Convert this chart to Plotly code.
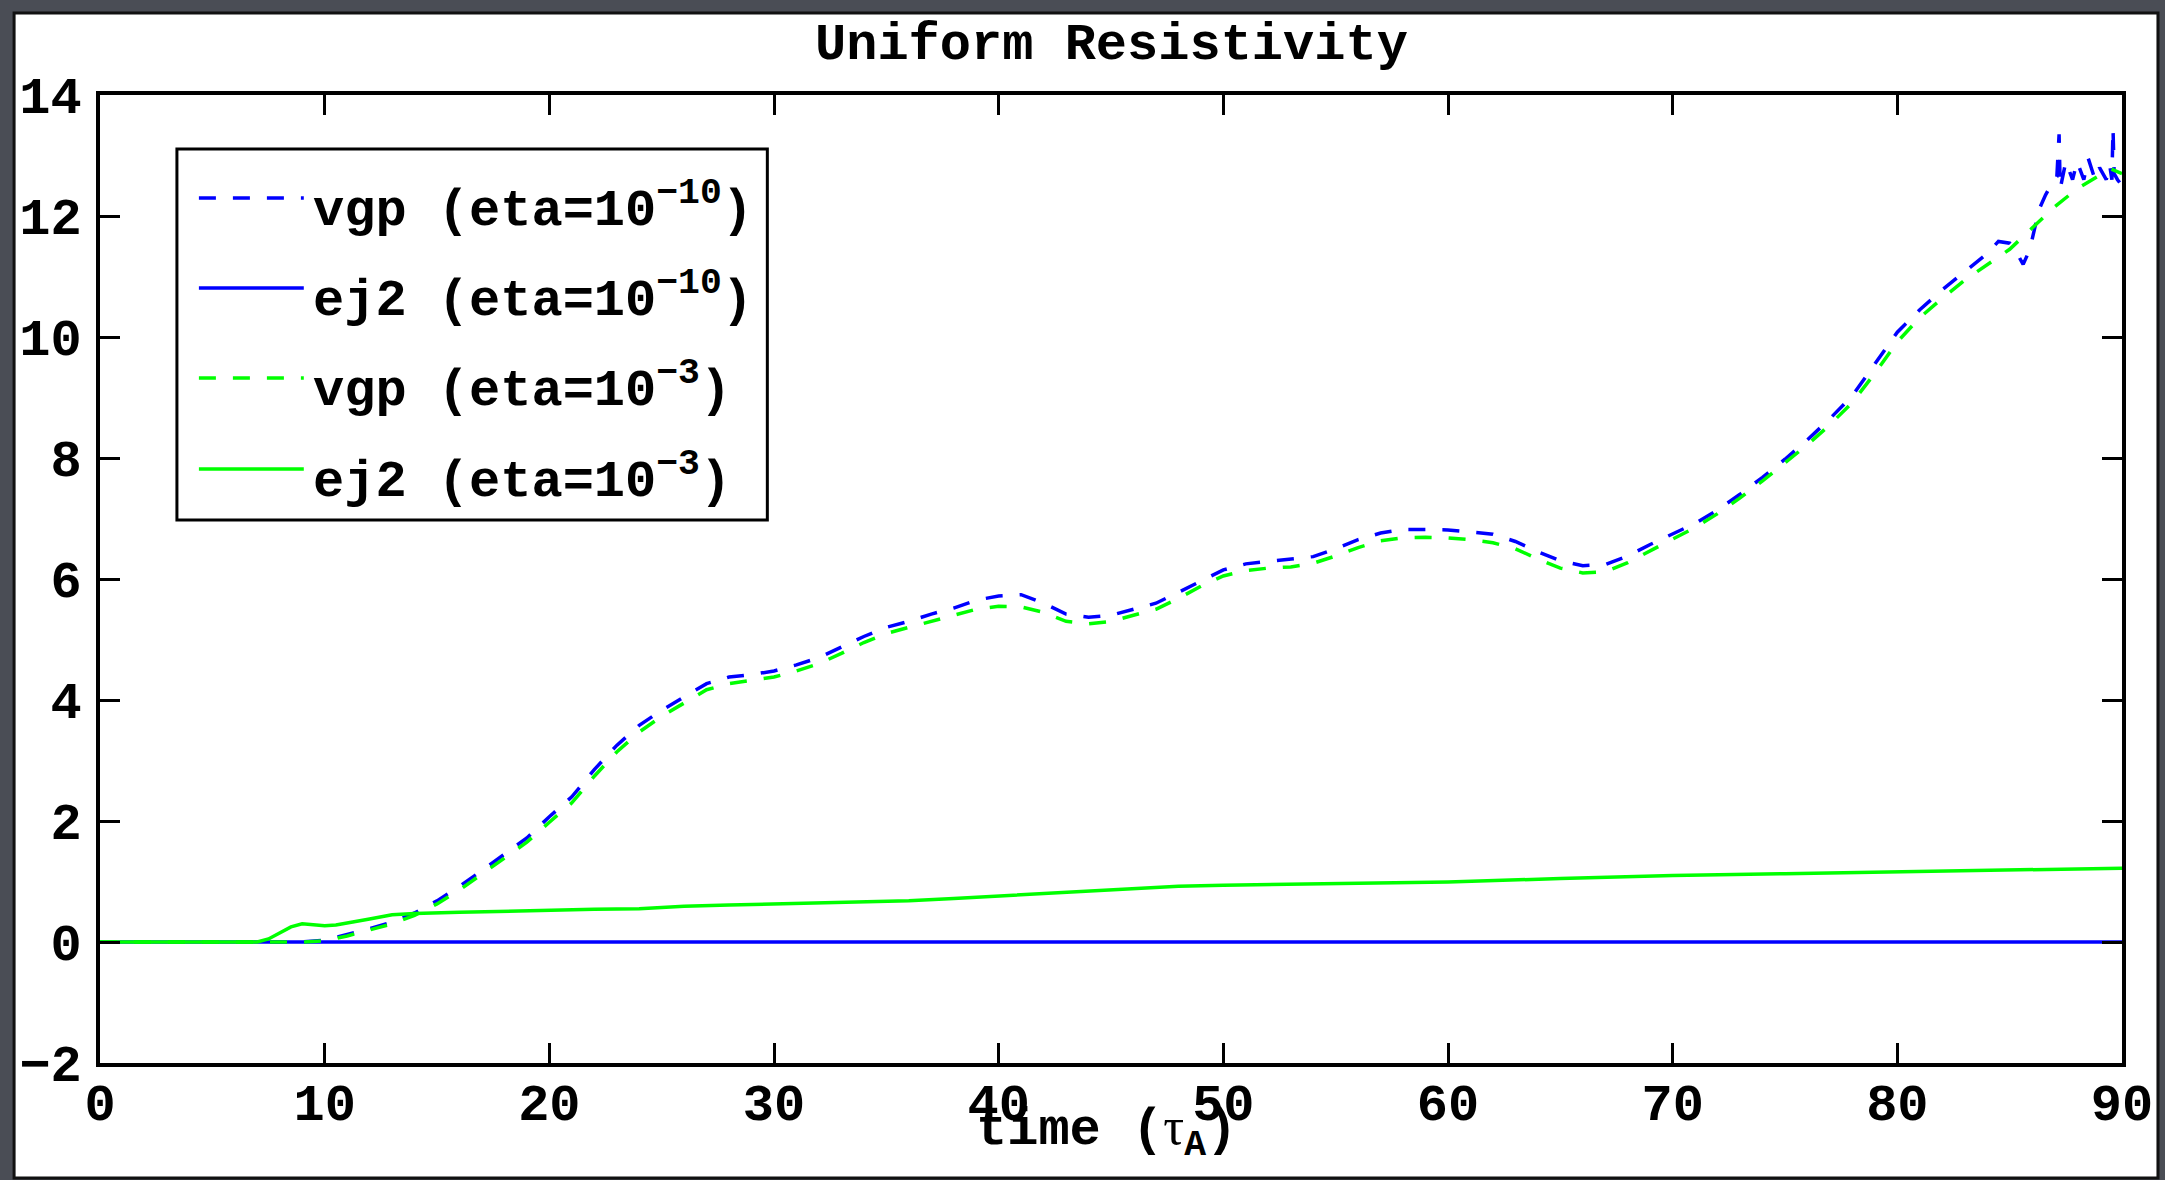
import plotly.graph_objects as go

# ---------------- data ----------------
# vgp, eta = 1e-10
time_vgp_1e10 = [0, 2, 4, 6, 8, 9, 10, 11, 12, 13, 14, 15, 16, 17, 18, 19, 20,
                 21, 22, 23, 24, 25, 26, 27, 28, 29, 30, 31, 32, 33, 34, 35, 36,
                 37, 38, 39, 40, 41, 42, 43, 44, 45, 46, 47, 48, 49, 50, 51, 52,
                 53, 54, 55, 56, 57, 58, 59, 60, 61, 62, 63, 64, 65, 66, 67, 68,
                 69, 70, 71, 72, 73, 74, 75, 76, 77, 78, 79, 80, 81, 82, 83, 84,
                 84.5, 85.0, 85.3, 85.6, 85.9, 86.1, 86.3, 86.6, 86.9, 87.1, 87.2,
                 87.25, 87.5, 87.8, 88.0, 88.3, 88.5, 88.8, 89.0, 89.3, 89.45,
                 89.55, 89.6, 89.65, 89.8, 90.0]
vgp_1e10 = [0.0, 0.0, 0.0, 0.0, 0.0, 0.0, 0.03, 0.12, 0.22, 0.33, 0.48, 0.68,
            0.92, 1.18, 1.45, 1.72, 2.07, 2.40, 2.85, 3.25, 3.58, 3.83, 4.05,
            4.27, 4.38, 4.42, 4.48, 4.58, 4.70, 4.87, 5.05, 5.20, 5.30, 5.42,
            5.52, 5.65, 5.72, 5.74, 5.60, 5.42, 5.37, 5.40, 5.50, 5.60, 5.78,
            5.97, 6.15, 6.25, 6.29, 6.32, 6.37, 6.50, 6.65, 6.76, 6.82, 6.82,
            6.81, 6.78, 6.74, 6.62, 6.45, 6.30, 6.22, 6.24, 6.38, 6.57, 6.74,
            6.92, 7.14, 7.40, 7.68, 7.98, 8.30, 8.65, 9.03, 9.55, 10.08, 10.45,
            10.78, 11.08, 11.38,
            11.58, 11.55, 11.40, 11.20, 11.45, 11.75, 12.10, 12.35, 12.55, 12.65,
            13.35, 12.45, 12.90, 12.60, 12.90, 12.60, 12.95, 12.60, 12.80, 12.60,
            12.85, 12.60, 13.45, 12.70, 12.60, 12.50]

# vgp, eta = 1e-3
time_vgp_1e3 = [0, 2, 4, 6, 8, 9, 10, 11, 12, 13, 14, 15, 16, 17, 18, 19, 20,
                21, 22, 23, 24, 25, 26, 27, 28, 29, 30, 31, 32, 33, 34, 35, 36,
                37, 38, 39, 40, 41, 42, 43, 44, 45, 46, 47, 48, 49, 50, 51, 52,
                53, 54, 55, 56, 57, 58, 59, 60, 61, 62, 63, 64, 65, 66, 67, 68,
                69, 70, 71, 72, 73, 74, 75, 76, 77, 78, 79, 80, 81, 82, 83, 84,
                85, 86, 87, 88, 89, 89.5, 90]
vgp_1e3 = [0.0, 0.0, 0.0, 0.0, 0.0, 0.0, 0.02, 0.10, 0.20, 0.30, 0.44, 0.63,
           0.86, 1.12, 1.38, 1.65, 1.98, 2.30, 2.74, 3.14, 3.47, 3.73, 3.95,
           4.17, 4.27, 4.32, 4.38, 4.48, 4.60, 4.77, 4.95, 5.10, 5.20, 5.31,
           5.40, 5.50, 5.55, 5.54, 5.45, 5.30, 5.26, 5.30, 5.40, 5.50, 5.68,
           5.88, 6.05, 6.14, 6.18, 6.20, 6.26, 6.38, 6.52, 6.63, 6.68, 6.69,
           6.68, 6.65, 6.60, 6.50, 6.33, 6.18, 6.10, 6.12, 6.27, 6.47, 6.66,
           6.85, 7.08, 7.34, 7.62, 7.92, 8.22, 8.55, 8.92, 9.40, 9.92, 10.32,
           10.64, 10.94, 11.20, 11.45, 11.80, 12.15, 12.45, 12.68, 12.78, 12.70]

# ej2 for both resistivities
time_ej2 = [0, 2, 4, 6, 7, 7.5, 8, 8.5, 9, 9.5, 10, 10.5, 11, 12, 13, 14, 16,
            18, 20, 22, 24, 26, 28, 30, 32, 34, 36, 38, 40, 42, 44, 46, 48, 50,
            55, 60, 65, 70, 75, 80, 85, 90]
ej2_1e3 = [0.0, 0.0, 0.0, 0.0, 0.0, 0.05, 0.15, 0.25, 0.30, 0.29, 0.27, 0.28,
           0.31, 0.38, 0.45, 0.47, 0.49, 0.51, 0.53, 0.54, 0.55, 0.59, 0.61,
           0.63, 0.64, 0.66, 0.68, 0.72, 0.76, 0.80, 0.85, 0.89, 0.92, 0.94,
           0.96, 0.99, 1.05, 1.10, 1.13, 1.16, 1.19, 1.22]
time_ej2_1e10 = [0, 30, 60, 90]
ej2_1e10 = [0.0, 0.0, 0.0, 0.0]

legend_labels = ["vgp (eta=10<sup>−10</sup>)", "ej2 (eta=10<sup>−10</sup>)",
                 "vgp (eta=10<sup>−3</sup>)", "ej2 (eta=10<sup>−3</sup>)"]
x_ticks = [0, 10, 20, 30, 40, 50, 60, 70, 80, 90]
y_ticks = [-2, 0, 2, 4, 6, 8, 10, 12, 14]

# ---------------- layout geometry ----------------
W, H = 2165, 1180
ML, MR, MT, MB = 100, 41, 95, 117
PW, PH = W - ML - MR, H - MT - MB

def px_x(x):
    return (x - ML) / PW

def px_y(y):
    return (H - MB - y) / PH

FONT = "Liberation Mono"
BLUE = "#0000ff"
GREEN = "#00ff00"
LW = 3.5
DASH = "17px,17px"

series = [
    (time_vgp_1e10, vgp_1e10, BLUE, DASH, legend_labels[0]),
    (time_ej2_1e10, ej2_1e10, BLUE, "solid", legend_labels[1]),
    (time_vgp_1e3, vgp_1e3, GREEN, DASH, legend_labels[2]),
    (time_ej2, ej2_1e3, GREEN, "solid", legend_labels[3]),
]

fig = go.Figure()
for t, v, col, dash, name in series:
    fig.add_trace(go.Scatter(x=t, y=v, mode="lines", name=name,
                             line=dict(color=col, width=LW, dash=dash),
                             showlegend=False))

shapes = []
# white sheet on the dark backdrop
shapes.append(dict(type="rect", xref="paper", yref="paper", layer="below",
                   x0=px_x(14), x1=px_x(2160), y0=px_y(1178), y1=px_y(13),
                   fillcolor="white", line=dict(color="#111111", width=3)))
# legend frame
shapes.append(dict(type="rect", xref="paper", yref="paper", layer="above",
                   x0=px_x(177), x1=px_x(768), y0=px_y(520), y1=px_y(149),
                   fillcolor="white", line=dict(color="black", width=3)))

annotations = []
row_y = [198, 288, 378, 469]
for (t, v, col, dash, name), ry in zip(series, row_y):
    shapes.append(dict(type="line", xref="paper", yref="paper", layer="above",
                       x0=px_x(199), x1=px_x(304), y0=px_y(ry), y1=px_y(ry),
                       line=dict(color=col, width=LW, dash=DASH if dash != "solid" else "solid")))
    annotations.append(dict(xref="paper", yref="paper", x=px_x(311), y=px_y(ry + 9),
                            xanchor="left", yanchor="middle", showarrow=False,
                            text=name,
                            font=dict(family=FONT, size=52, color="black", weight="bold")))

# title
annotations.append(dict(xref="paper", yref="paper", x=0.5, y=px_y(46),
                        xanchor="center", yanchor="middle", showarrow=False,
                        text="Uniform Resistivity",
                        font=dict(family=FONT, size=52, color="black", weight="bold")))
# x-axis label
annotations.append(dict(xref="paper", yref="paper", x=px_x(1107), y=px_y(1132),
                        xanchor="center", yanchor="middle", showarrow=False,
                        text="time (<span style='font-family:Liberation Serif;font-weight:normal'>τ</span><sub>A</sub>)",
                        font=dict(family=FONT, size=52, color="black", weight="bold")))

axis_common = dict(showline=True, linecolor="black", linewidth=4, mirror="ticks",
                   ticks="inside", ticklen=20, tickwidth=3, tickcolor="black",
                   showgrid=False, zeroline=False,
                   tickfont=dict(family=FONT, size=52, color="black", weight="bold"))

fig.update_layout(
    width=W, height=H,
    margin=dict(l=ML, r=MR, t=MT, b=MB, pad=0),
    paper_bgcolor="#4a4d55",
    plot_bgcolor="white",
    shapes=shapes,
    annotations=annotations,
    xaxis=dict(range=[0, 90], tickvals=x_ticks, ticklabelstandoff=-9, **axis_common),
    yaxis=dict(range=[-2, 14], tickvals=y_ticks, ticklabelstandoff=4, **axis_common),
)

fig.write_html("out.html", config={"displayModeBar": False})
